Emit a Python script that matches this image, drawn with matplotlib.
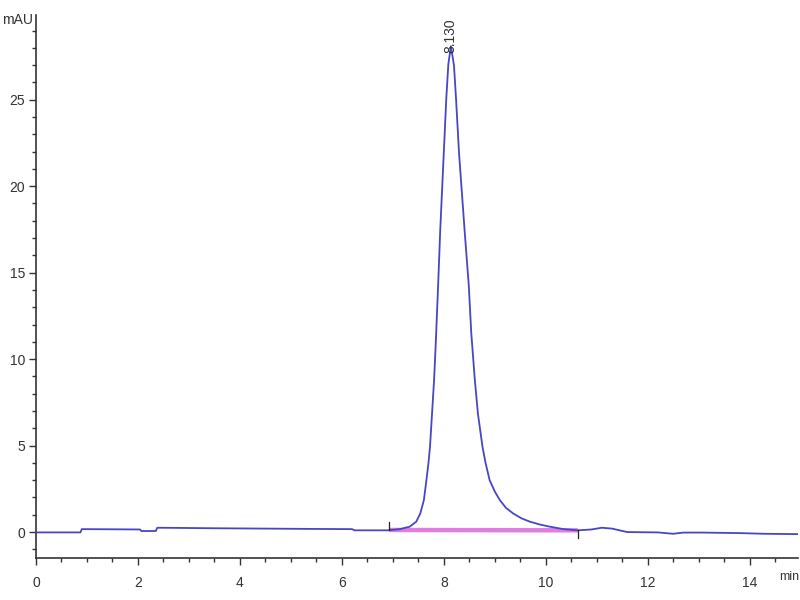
import matplotlib
matplotlib.use('Agg')
import matplotlib.pyplot as plt
from matplotlib.ticker import MultipleLocator

# chromatogram trace (min, mAU)
time_min = [
    0.0, 0.5, 0.87, 0.90, 1.5, 2.04, 2.07, 2.35, 2.38, 2.8, 3.5, 4.5,
    5.5, 6.2, 6.25, 6.9, 6.93, 7.14, 7.33, 7.46, 7.54, 7.61, 7.66, 7.70,
    7.73, 7.77, 7.81, 7.84, 7.89, 7.93, 8.00, 8.05, 8.09, 8.14, 8.20,
    8.24, 8.30, 8.41, 8.49, 8.54, 8.61, 8.67, 8.76, 8.82, 8.90, 9.00,
    9.10, 9.22, 9.36, 9.52, 9.69, 9.88, 10.08, 10.35, 10.63,
    10.9, 11.1, 11.3, 11.6, 12.2, 12.5, 12.7, 13.1, 13.8, 14.3, 14.95,
]
signal_mau = [
    -0.02, -0.02, -0.02, 0.17, 0.16, 0.15, 0.06, 0.06, 0.25, 0.24, 0.22, 0.2,
    0.18, 0.17, 0.1, 0.1, 0.11, 0.17, 0.31, 0.6, 1.08, 1.85, 3.0, 4.0,
    4.93, 6.85, 8.78, 10.7, 14.3, 17.4, 21.9, 25.1, 27.06, 28.1, 27.0,
    25.1, 21.9, 17.4, 14.3, 11.5, 8.78, 6.85, 4.93, 4.0, 3.0, 2.35,
    1.85, 1.4, 1.08, 0.8, 0.6, 0.44, 0.31, 0.17, 0.1,
    0.15, 0.25, 0.2, 0.0, -0.02, -0.1, -0.03, -0.03, -0.06, -0.1, -0.12,
]

# integration baseline of the peak
baseline_t = [6.93, 10.63]
baseline_y = [0.12, 0.1]

peak_rt = 8.13
peak_height = 28.1
peak_label = '8.130'

x_ticks = [0, 2, 4, 6, 8, 10, 12, 14]
y_ticks = [0, 5, 10, 15, 20, 25]

plt.rcParams['font.family'] = ['Liberation Sans Narrow', 'Liberation Sans', 'DejaVu Sans']

fig = plt.figure(figsize=(8, 6), dpi=100)
ax = fig.add_axes([36 / 800, 0.07, 762 / 800, 0.905])

ax.plot(baseline_t, baseline_y, color='#e07ee0', lw=3.2, solid_capstyle='butt', zorder=2)
ax.plot(time_min, signal_mau, color='#4646c6', lw=1.3, zorder=3)

# start / end markers of integration
ax.plot([baseline_t[0], baseline_t[0]], [baseline_y[0], baseline_y[0] + 0.45], color='#222222', lw=0.9, zorder=4)
ax.plot([baseline_t[1], baseline_t[1]], [baseline_y[1], baseline_y[1] - 0.45], color='#222222', lw=0.9, zorder=4)

ax.text(peak_rt, peak_height - 0.4, peak_label, rotation=90, ha='center', va='bottom',
        fontsize=10, color='#333333')

ax.set_xlim(0, 14.95)
ax.set_ylim(-1.5, 29.9)
ax.set_xticks(x_ticks)
ax.set_yticks(y_ticks)
ax.xaxis.set_minor_locator(MultipleLocator(0.5))
ax.yaxis.set_minor_locator(MultipleLocator(1))

for side in ('top', 'right'):
    ax.spines[side].set_visible(False)
for side in ('left', 'bottom'):
    ax.spines[side].set_color('#333333')
    ax.spines[side].set_linewidth(1.2)

ax.tick_params(which='major', length=5, width=1, color='#333333', labelsize=10,
               labelcolor='#333333', direction='out')
ax.tick_params(which='minor', length=3, width=1, color='#333333', direction='out')
ax.tick_params(axis='x', pad=8)
ax.tick_params(axis='y', pad=3)

fig.text(2 / 800, 1 - 20 / 600, 'mAU', fontsize=10, color='#333333', va='center', ha='left')
fig.text(799 / 800, 1 - 577 / 600, 'min', fontsize=9, color='#333333', va='center', ha='right')

fig.savefig('out.png', dpi=100)
